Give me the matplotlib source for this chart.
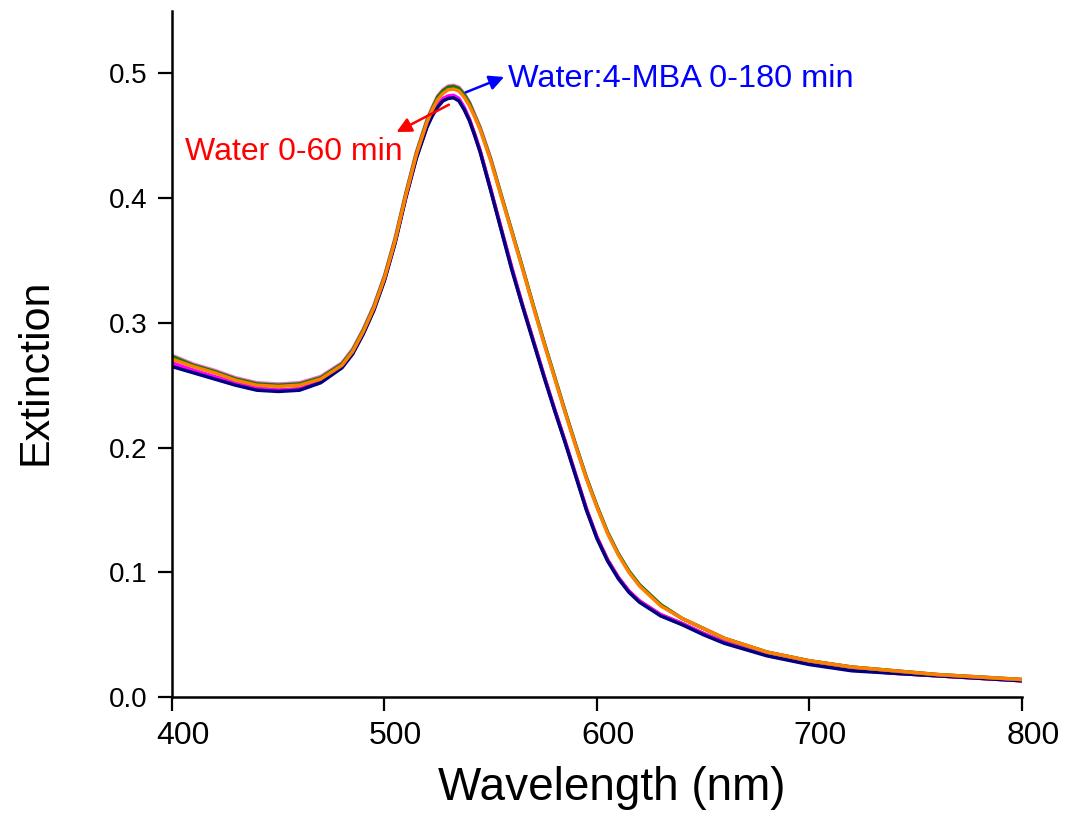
import matplotlib
matplotlib.use('Agg')
import matplotlib.pyplot as plt
from matplotlib.transforms import ScaledTranslation

plt.rcParams['font.family'] = ['Liberation Sans', 'DejaVu Sans']

# wavelength grid (nm)
wl = [400, 410, 420, 430, 440, 450, 460, 470, 480, 485, 490, 495,
      500, 505, 510, 515,
      520, 522.5, 525, 527.5, 530, 532.5, 535, 537.5, 540, 542.5, 545,
      550, 555, 560, 565, 570, 575, 580, 585, 590, 595, 600, 605, 610, 615, 620,
      630, 640, 650, 660,
      680, 700, 720, 740, 760, 780, 800]

# Water 0-60 min spectra
water_red = [0.267, 0.262, 0.256, 0.251, 0.247, 0.246, 0.247, 0.253, 0.265, 0.276, 0.292, 0.311,
             0.335, 0.365, 0.401, 0.433,
             0.458, 0.467, 0.474, 0.479, 0.481, 0.4815, 0.479, 0.472, 0.463, 0.451, 0.438,
             0.407, 0.375, 0.343, 0.314, 0.286, 0.258, 0.231, 0.205, 0.178, 0.151, 0.128, 0.110, 0.096, 0.085, 0.077,
             0.066, 0.059, 0.051, 0.044,
             0.034, 0.027, 0.022, 0.019, 0.017, 0.015, 0.013]
water_magenta = [0.268, 0.262, 0.257, 0.252, 0.248, 0.246, 0.247, 0.253, 0.265, 0.276, 0.292, 0.311,
                 0.335, 0.365, 0.401, 0.433,
                 0.458, 0.468, 0.475, 0.480, 0.482, 0.4825, 0.480, 0.473, 0.463, 0.451, 0.438,
                 0.407, 0.375, 0.344, 0.314, 0.286, 0.258, 0.231, 0.205, 0.178, 0.151, 0.128, 0.110, 0.096, 0.085, 0.077,
                 0.066, 0.059, 0.051, 0.044,
                 0.034, 0.027, 0.022, 0.019, 0.017, 0.015, 0.013]
water_navy = [0.265, 0.260, 0.255, 0.250, 0.246, 0.245, 0.246, 0.252, 0.264, 0.275, 0.291, 0.310,
              0.334, 0.364, 0.400, 0.432,
              0.457, 0.466, 0.473, 0.478, 0.480, 0.4805, 0.478, 0.471, 0.462, 0.450, 0.437,
              0.406, 0.374, 0.342, 0.313, 0.285, 0.257, 0.230, 0.204, 0.177, 0.150, 0.127, 0.109, 0.095, 0.084, 0.076,
              0.065, 0.058, 0.050, 0.043,
              0.033, 0.026, 0.021, 0.019, 0.017, 0.015, 0.013]

# Water:4-MBA 0-180 min spectra
mba_pink = [0.274, 0.267, 0.262, 0.256, 0.252, 0.251, 0.252, 0.257, 0.268, 0.279, 0.295, 0.314,
            0.338, 0.368, 0.404, 0.437,
            0.463, 0.473, 0.482, 0.487, 0.490, 0.4905, 0.489, 0.484, 0.477, 0.467, 0.457,
            0.432, 0.402, 0.373, 0.344, 0.314, 0.285, 0.257, 0.229, 0.202, 0.176, 0.153, 0.132, 0.115, 0.101, 0.090,
            0.074, 0.063, 0.055, 0.047,
            0.036, 0.029, 0.024, 0.021, 0.018, 0.016, 0.014]
mba_green = [0.273, 0.266, 0.261, 0.255, 0.251, 0.250, 0.251, 0.256, 0.267, 0.278, 0.294, 0.313,
             0.337, 0.367, 0.403, 0.436,
             0.462, 0.472, 0.481, 0.486, 0.489, 0.4895, 0.488, 0.483, 0.476, 0.466, 0.456,
             0.431, 0.402, 0.373, 0.344, 0.314, 0.285, 0.257, 0.229, 0.202, 0.176, 0.153, 0.132, 0.115, 0.101, 0.090,
             0.074, 0.063, 0.055, 0.047,
             0.036, 0.029, 0.024, 0.021, 0.018, 0.016, 0.014]
mba_orange = [0.271, 0.265, 0.260, 0.254, 0.250, 0.249, 0.250, 0.255, 0.266, 0.277, 0.293, 0.312,
              0.336, 0.366, 0.402, 0.435,
              0.461, 0.471, 0.479, 0.484, 0.487, 0.4875, 0.486, 0.481, 0.474, 0.465, 0.455,
              0.430, 0.401, 0.372, 0.343, 0.313, 0.284, 0.256, 0.228, 0.201, 0.175, 0.152, 0.131, 0.114, 0.100, 0.089,
              0.073, 0.063, 0.055, 0.047,
              0.036, 0.029, 0.024, 0.021, 0.018, 0.016, 0.014]

fig = plt.figure(figsize=(10.67, 8.17), dpi=100)
ax = fig.add_axes([0.1612, 0.1469, 0.7966, 0.8395])

lw = 2.5
ax.plot(wl, water_red, color='#ff0000', lw=lw)
ax.plot(wl, water_magenta, color='#ff00ff', lw=lw)
ax.plot(wl, water_navy, color='#000080', lw=lw)
ax.plot(wl, mba_pink, color='#ff66cc', lw=lw)
ax.plot(wl, mba_green, color='#008000', lw=lw)
ax.plot(wl, mba_orange, color='#ff8000', lw=lw)

# arrows + labels
ax.annotate('', xy=(504.5, 0.452), xytext=(531.5, 0.476),
            arrowprops=dict(arrowstyle='-|>', color='#ff0000', lw=1.8, mutation_scale=22))
ax.annotate('', xy=(557.5, 0.498), xytext=(537.0, 0.484),
            arrowprops=dict(arrowstyle='-|>', color='#0000ff', lw=1.8, mutation_scale=22))
ax.text(406, 0.431, 'Water 0-60 min', color='#ff0000', fontsize=23,
        ha='left', va='baseline')
ax.text(558, 0.489, 'Water:4-MBA 0-180 min', color='#0000ff', fontsize=23.4,
        ha='left', va='baseline')

ax.set_xlim(400, 800)
ax.set_ylim(0, 0.55)
ax.set_xticks([400, 500, 600, 700, 800])
ax.set_yticks([0.0, 0.1, 0.2, 0.3, 0.4, 0.5])
ax.set_yticklabels(['0.0', '0.1', '0.2', '0.3', '0.4', '0.5'])

for s in ['top', 'right']:
    ax.spines[s].set_visible(False)
for s in ['left', 'bottom']:
    ax.spines[s].set_linewidth(1.8)

ax.tick_params(axis='both', direction='out', length=10, width=1.6)
ax.tick_params(axis='x', pad=7, labelsize=23)
ax.tick_params(axis='y', pad=8, labelsize=20)
# x tick labels sit a bit right of their ticks in the original
shift = ScaledTranslation(11 / 100, 0, fig.dpi_scale_trans)
for lab in ax.get_xticklabels():
    lab.set_transform(lab.get_transform() + shift)

ax.set_xlabel('Wavelength (nm)', fontsize=33)
ax.xaxis.set_label_coords(0.517, -0.100)
ax.set_ylabel('Extinction', fontsize=31)
ax.yaxis.set_label_coords(-0.137, 0.474)

fig.savefig('out.png', dpi=100)
